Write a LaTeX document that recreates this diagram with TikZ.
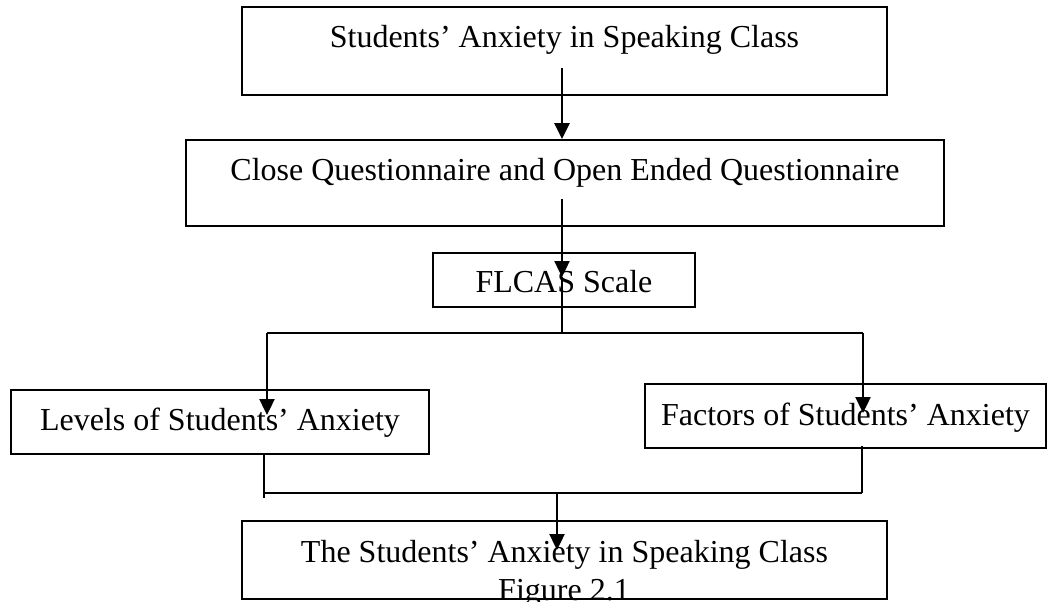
\documentclass[tikz,border=0pt]{standalone}
\usepackage{fontspec}
\setmainfont{Liberation Serif}
\usetikzlibrary{arrows.meta}
\begin{document}
\begin{tikzpicture}[x=1pt,y=-1pt,
  box/.style={draw,line width=1.8pt,inner sep=0pt,font=\fontsize{32}{38}\selectfont},
  arr/.style={line width=2.4pt,-{Triangle[length=16pt,width=15pt]}},
  link/.style={line width=1.8pt}]
\useasboundingbox (0,0) rectangle (1049,602);
% boxes
\node[box,minimum width=645pt,text height=41pt,text depth=47pt] (anx) at (564.5,51) {Students’ Anxiety in Speaking Class};
\node[box,minimum width=758pt,text height=40pt,text depth=46pt] (quest) at (565,183) {Close Questionnaire and Open Ended Questionnaire};
\node[box,minimum width=262pt,text height=39pt,text depth=15pt] (flcas) at (564,280) {FLCAS Scale};
\node[box,minimum width=418pt,text height=40pt,text depth=24pt] (lev) at (220,422) {Levels of Students’ Anxiety};
\node[box,minimum width=401pt,text height=41pt,text depth=23pt] (fac) at (845.5,416) {Factors of Students’ Anxiety};
\node[box,minimum width=645pt,text height=41pt,text depth=37pt] (res) at (564.5,560) {The Students’ Anxiety in Speaking Class};
\node[anchor=base,inner sep=0pt,font=\fontsize{32}{38}\selectfont] (fig) at (564,600) {Figure 2.1};
% top arrows
\coordinate (s1) at (562,68);
\draw[arr] (s1) -- (s1 |- quest.north);
\coordinate (s2) at (562,199);
\coordinate (t2) at (562,277);
\draw[arr] (s2) -- (t2);
% split to the two results
\coordinate (jc) at (562,333);
\coordinate (jl) at (267,333);
\coordinate (jr) at (863,333);
\coordinate (tl) at (267,415);
\coordinate (tr) at (863,413);
\draw[link] (t2) -- (jc);
\draw[link] (jl) -- (jr);
\draw[arr] (jl) -- (tl);
\draw[arr] (jr) -- (tr);
% join to the last box
\coordinate (bl) at (264,498);
\coordinate (bj) at (264,493);
\coordinate (fr) at (862,446);
\coordinate (br) at (862,493);
\draw[link] (lev.south -| bl) -- (bl);
\draw[link] (fr) -- (br);
\draw[link] (bj) -- (br);
\coordinate (s3) at (557,492);
\coordinate (t3) at (557,550);
\draw[arr] (s3) -- (t3);
\end{tikzpicture}
\end{document}
